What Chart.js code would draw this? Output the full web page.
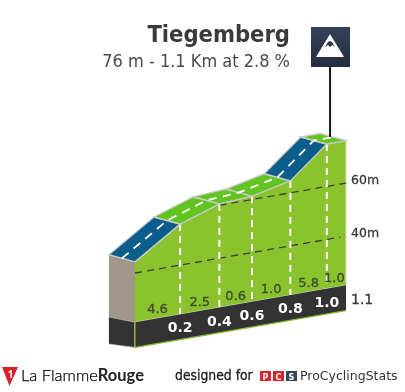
<!DOCTYPE html>
<html><head><meta charset="utf-8">
<style>html,body{margin:0;padding:0;background:#fff}canvas{display:block}</style>
<script src="https://cdn.jsdelivr.net/npm/chart.js@4"></script>
</head><body><canvas id="c" width="405" height="392"></canvas>
<script>
const climbName = "Tiegemberg";
const climbInfo = "76 m - 1.1 Km at 2.8 %";
const distances = [0, 0.235, 0.44, 0.61, 0.81, 1.0, 1.1];
const elevations = [44.2, 55.5, 60.5, 61.3, 64.5, 76, 76];
const kmLabels = ["0.2", "0.4", "0.6", "0.8", "1.0"];
const endLabel = "1.1";
const gradients = ["4.6", "2.5", "0.6", "1.0", "5.8", "1.0"];
const gradientColors = ["#0b5d8c", "#62c41f", "#62c41f", "#62c41f", "#0b5d8c", "#62c41f"];
const elevationTicks = [40, 60];
const tickStarts = [0, 0.44];
const tickEnds = [1.07, 1.1];
const baseTop = 21.4, baseBottom = 11.9;
const depthKm = -0.136, depthM = 4.4;
const sideTop = [48.5, 25.1, 14.9];
const poleKm = 1.017, poleElev = [78.5, 104.9];

const SHEAR = 0.175, X0 = 135;
const pt = (x, y) => ({x, y});
const profile = distances.map((d, i) => pt(d, elevations[i]));
const ds = [];
const poly = (data, bg, border, bw) => ds.push({data, backgroundColor: bg, borderColor: border || bg, borderWidth: bw === undefined ? 1 : bw, fill: 'shape', showLine: true, pointRadius: 0, tension: 0, clip: false});
const line = (data, color, w, dash) => ds.push({data, borderColor: color, borderWidth: w, borderDash: dash || [], fill: false, showLine: true, pointRadius: 0, tension: 0, clip: false});

poly([pt(depthKm, sideTop[0]), pt(0, elevations[0]), pt(0, baseTop), pt(depthKm, sideTop[1])], "#a0968a", "#a0968a", 1);
poly([pt(depthKm, sideTop[1]), pt(0, baseTop), pt(0, baseBottom), pt(depthKm, sideTop[2])], "#333333", "#cfcfcf", 0.5);
poly([...profile, pt(1.1, baseTop), pt(0, baseTop)], "#8bc32e", "#d5d9c8", 1);
elevationTicks.forEach((e, i) => line([pt(tickStarts[i], e), pt(tickEnds[i], e)], "#3a3f33", 1.3, [7, 5]));
distances.slice(1, 6).forEach((d, i) => line([pt(d, elevations[i + 1]), pt(d, baseTop)], "#ffffff", 2, [7, 5]));
poly([pt(0, baseTop), pt(1.1, baseTop), pt(1.1, baseBottom), pt(0, baseBottom)], "#333333", "#333333", 0);
line([pt(0, baseTop), pt(0, baseBottom), pt(1.1, baseBottom)], "#86bb34", 1.2);
gradientColors.forEach((c, i) => poly([
  pt(distances[i], elevations[i]), pt(distances[i + 1], elevations[i + 1]),
  pt(distances[i + 1] + depthKm, elevations[i + 1] + depthM), pt(distances[i] + depthKm, elevations[i] + depthM),
  pt(distances[i], elevations[i])], c, "#c9c9c9", 1.4));
line(profile.map(p => pt(p.x + depthKm / 2, p.y + depthM / 2)), "#ffffff", 2, [8, 6]);
line([pt(poleKm, poleElev[0]), pt(poleKm, poleElev[1])], "#111111", 2);

const shearPlugin = {
  id: 'shear',
  beforeDatasetsDraw(c) { c.ctx.save(); c.ctx.transform(1, -SHEAR, 0, 1, 0, SHEAR * X0); },
  afterDatasetsDraw(c) { c.ctx.restore(); }
};
const textPlugin = {
  id: 'labels',
  afterDraw(c) {
    const g = c.ctx, xs = c.scales.x, ys = c.scales.y;
    const px = (k, e) => { const x = xs.getPixelForValue(k); return [x, ys.getPixelForValue(e) - SHEAR * (x - X0)]; };
    const T = (s, x, y, font, col, al, heavy) => {
      g.font = font; g.fillStyle = col; g.textAlign = al || 'center'; g.textBaseline = 'alphabetic'; g.fillText(s, x, y);
      if (heavy) { g.strokeStyle = col; g.lineWidth = heavy; g.strokeText(s, x, y); }
    };
    const SANS = '"DejaVu Sans"';
    T(climbName, 290, 42, 'bold condensed 23.5px ' + SANS, '#3a3a3a', 'right');
    T(climbInfo, 290, 67, 'condensed 18px ' + SANS, '#4a4a4a', 'right');
    elevationTicks.forEach((e) => { const [, y] = px(tickEnds[1], e); T(e + 'm', 351, y + 1, '12.5px ' + SANS, '#3a3a3a', 'left', 0.3); });
    kmLabels.forEach((s, i) => { const [x, y] = px(distances[i + 1], (baseTop + baseBottom) / 2); T(s, x, y + 5.5, 'bold 14px ' + SANS, '#ffffff'); });
    T(endLabel, 351, 304, '14px ' + SANS, '#3a3a3a', 'left', 0.3);
    gradients.forEach((s, i) => { const [x, y] = px((distances[i] + distances[i + 1]) / 2, baseTop); T(s, i === 5 ? x - 2 : x, y - 5, '13px ' + SANS, '#3f4a2e', 'center', 0.3); });
    const gr = g.createLinearGradient(0, 27, 0, 67); gr.addColorStop(0, '#33415a'); gr.addColorStop(1, '#252d3c');
    g.fillStyle = gr; g.fillRect(311, 27, 39, 40);
    g.fillStyle = '#fff'; g.beginPath(); g.moveTo(330, 34); g.lineTo(344, 57); g.lineTo(316, 57); g.closePath(); g.fill();
    g.fillStyle = '#2c374b'; g.beginPath(); g.moveTo(325, 47); g.lineTo(328, 45); g.lineTo(330, 47); g.lineTo(332.5, 45); g.lineTo(335, 47); g.lineTo(332, 42); g.lineTo(330, 41); g.lineTo(328, 42); g.closePath(); g.fill();
    g.fillStyle = '#d8202c'; g.beginPath(); g.moveTo(2, 367); g.lineTo(18, 367); g.lineTo(9.5, 386); g.closePath(); g.fill();
    T('1', 10.5, 378, 'bold 10px "Open Sans"', '#fff');
    T('La Flamme', 21, 381, '300 16.5px Lato', '#000', 'left', 0.25);
    const w = g.measureText('La Flamme').width;
    T('Rouge', 21 + w, 381, 'bold 16.5px Lato', '#222', 'left');
    T('designed for', 175, 380, 'condensed 13.8px ' + SANS, '#222', 'left', 0.3);
    [['P', 260, '#d8262c'], ['C', 273, '#d8262c'], ['S', 286, '#3a4658']].forEach(b => {
      g.fillStyle = b[2]; g.fillRect(b[1], 371, 11, 10);
      T(b[0], b[1] + 5.5, 379.5, 'bold 8px ' + SANS, '#fff');
    });
    T('ProCyclingStats', 300, 380, '12.5px ' + SANS, '#333', 'left');
  }
};
new Chart(document.getElementById('c'), {
  type: 'scatter',
  data: {datasets: ds.map((d, i) => Object.assign(d, {order: ds.length - i}))},
  options: {
    responsive: false, animation: false, events: [],
    layout: {padding: 0},
    plugins: {legend: {display: false}, tooltip: {enabled: false}},
    scales: {
      x: {type: 'linear', display: false, min: -135 / 191.8, max: 270 / 191.8},
      y: {type: 'linear', display: false, min: 40 - 119 / 2.65, max: 40 + 273 / 2.65}
    }
  },
  plugins: [shearPlugin, textPlugin]
});
</script></body></html>
